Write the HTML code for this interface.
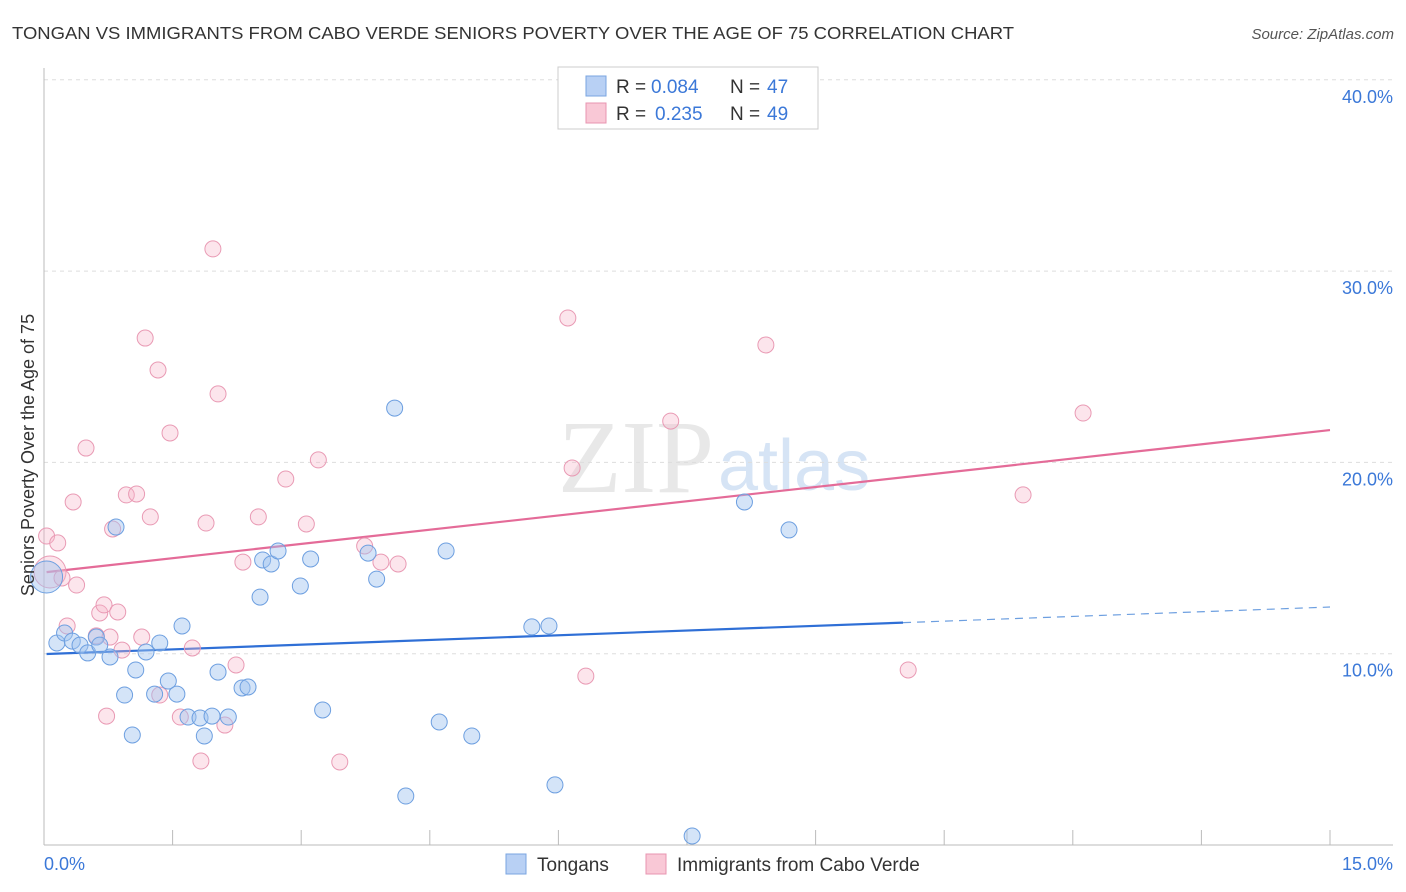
<!DOCTYPE html>
<html><head><meta charset="utf-8"><style>
body{margin:0;background:#fff;font-family:"Liberation Sans",sans-serif}
svg{display:block}
</style></head><body>
<svg id="chart" width="1406" height="892">
<text x="12" y="39" font-size="17.5" fill="#333" textLength="1002" lengthAdjust="spacingAndGlyphs">TONGAN VS IMMIGRANTS FROM CABO VERDE SENIORS POVERTY OVER THE AGE OF 75 CORRELATION CHART</text>
<text x="1394" y="39" font-size="15" fill="#555" font-style="italic" text-anchor="end">Source: ZipAtlas.com</text>
<text x="714" y="492" font-size="104" fill="#e8e8e8" text-anchor="end" font-family="Liberation Serif">ZIP</text>
<text x="718" y="490" font-size="72" fill="#d6e4f5">atlas</text>
<g id="grid"></g><g id="axes"></g><g id="trends"></g><g id="pts"></g>
<text transform="translate(34,455) rotate(-90)" font-size="18" fill="#333" text-anchor="middle">Seniors Poverty Over the Age of 75</text>
<g>
<rect x="558" y="67" width="260" height="62" fill="#fff" stroke="#ccc"/>
<rect x="586" y="76" width="20" height="20" fill="#b8d0f4" stroke="#7aa5e0"/>
<text x="616" y="93" font-size="19" fill="#333">R =</text>
<text x="651" y="93" font-size="19" fill="#3b78d8">0.084</text>
<text x="730" y="93" font-size="19" fill="#333">N =</text>
<text x="767" y="93" font-size="19" fill="#3b78d8">47</text>
<rect x="586" y="103" width="20" height="20" fill="#f9c8d6" stroke="#e895b0"/>
<text x="616" y="120" font-size="19" fill="#333">R =</text>
<text x="655" y="120" font-size="19" fill="#3b78d8">0.235</text>
<text x="730" y="120" font-size="19" fill="#333">N =</text>
<text x="767" y="120" font-size="19" fill="#3b78d8">49</text>
</g>
<g>
<rect x="506" y="854" width="20" height="20" fill="#b8d0f4" stroke="#7aa5e0"/>
<text x="537" y="871" font-size="19" fill="#333">Tongans</text>
<rect x="646" y="854" width="20" height="20" fill="#f9c8d6" stroke="#e895b0"/>
<text x="677" y="871" font-size="19" fill="#333">Immigrants from Cabo Verde</text>
</g>
</svg>
<script>
const blueX=[0.03,0.15,0.24,0.33,0.42,0.51,0.61,0.65,0.77,0.84,0.94,1.03,1.07,1.19,1.29,1.35,1.45,1.55,1.61,1.68,1.82,1.87,1.96,2.03,2.15,2.31,2.38,2.52,2.55,2.65,2.73,2.99,3.11,3.25,3.78,3.88,4.09,4.22,4.61,4.69,4.99,5.69,5.89,5.96,7.56,8.17,8.69];
const blueY=[14.01,10.56,11.08,10.66,10.45,10.04,10.87,10.45,9.83,16.62,7.84,5.75,9.15,10.09,7.89,10.56,8.57,7.89,11.45,6.69,6.64,5.70,6.74,9.04,6.69,8.21,8.26,12.96,14.90,14.69,15.37,13.54,14.95,7.06,15.26,13.90,22.84,2.56,6.43,15.37,5.70,11.40,11.45,3.14,0.47,17.93,16.47];
const pinkX=[0.03,0.07,0.16,0.21,0.27,0.34,0.38,0.49,0.61,0.65,0.70,0.73,0.80,0.86,0.91,0.96,1.08,1.14,1.18,1.24,1.33,1.35,1.47,1.59,1.73,1.83,1.89,1.97,2.03,2.11,2.24,2.32,2.50,2.82,3.06,3.20,3.45,3.74,3.93,4.13,6.11,6.16,6.32,7.31,8.42,10.08,11.42,12.12,0.77];
const pinkY=[16.15,14.27,15.79,13.96,11.45,17.93,13.59,20.75,10.93,12.13,12.55,6.74,16.52,12.18,10.19,18.30,18.35,10.87,26.50,17.15,24.83,7.84,21.54,6.69,10.30,4.39,16.83,31.16,23.58,6.27,9.41,14.79,17.15,19.13,16.78,20.13,4.34,15.63,14.79,14.69,27.55,19.71,8.83,22.16,26.14,9.15,18.30,22.58,10.87];
const yTicks=[10,20,30,40];
const yTickLabels=["10.0%","20.0%","30.0%","40.0%"];
const xTickCount=10;
const blueTrend=[9.98,12.44], blueSolidEnd=10.02;
const pinkTrend=[14.25,21.69];
const sx=v=>44+v/15*1286, sy=v=>845-v*19.13;
const NS="http://www.w3.org/2000/svg";
function mk(t,a,p){const e=document.createElementNS(NS,t);for(const k in a)e.setAttribute(k,a[k]);p.appendChild(e);return e;}
const grid=document.getElementById('grid'),axes=document.getElementById('axes');
yTicks.forEach((t,i)=>{
 const l=mk('line',{x1:44,x2:1393,y1:sy(t),y2:sy(t),stroke:'#ddd','stroke-dasharray':'4,4'},grid);
 
 
 const tx=mk('text',{x:1393,y:sy(t)+23,'font-size':18,fill:'#3b78d8','text-anchor':'end'},axes);
 tx.textContent=yTickLabels[i];
 
 
});
const ax=mk('line',{x1:44,x2:44,y1:68,y2:845,stroke:'#bbb'},axes);


const bx=mk('line',{x1:44,x2:1393,y1:845,y2:845,stroke:'#bbb'},axes);


for(let i=0;i<=xTickCount;i++){
 const x=sx(i*15/xTickCount);
 const t=mk('line',{x1:x,x2:x,y1:830,y2:845,stroke:'#bbb'},axes);
 
 
}
const x0=mk('text',{x:44,y:870,'font-size':18,fill:'#3b78d8'},axes);x0.textContent='0.0%';


const x1=mk('text',{x:1393,y:870,'font-size':18,fill:'#3b78d8','text-anchor':'end'},axes);x1.textContent='15.0%';


const pts=document.getElementById('pts');
function dot(x,y,r,fill,stroke,name){const c=mk('circle',{cx:sx(x),cy:sy(y),r:r,fill:fill,stroke:stroke,'stroke-width':1},pts);
 
 }
pinkX.forEach((x,i)=>dot(x,pinkY[i],i===1?16:8,'rgba(245,180,200,0.35)','#e99ab4','pink-point'));
blueX.forEach((x,i)=>dot(x,blueY[i],i===0?16:8,'rgba(160,195,240,0.45)','#6d9fe0','blue-point'));
const tr=document.getElementById('trends');
const lerp=(a,v)=>a[0]+(a[1]-a[0])*v/15;
const b1=mk('line',{x1:sx(0.03),y1:sy(lerp(blueTrend,0.03)),x2:sx(blueSolidEnd),y2:sy(lerp(blueTrend,blueSolidEnd)),stroke:'#2f6fd6','stroke-width':2.2},tr);


const b2=mk('line',{x1:sx(blueSolidEnd),y1:sy(lerp(blueTrend,blueSolidEnd)),x2:sx(15),y2:sy(blueTrend[1]),stroke:'#6d9fe0','stroke-width':1.2,'stroke-dasharray':'8,6'},tr);


const p1=mk('line',{x1:sx(0.03),y1:sy(lerp(pinkTrend,0.03)),x2:sx(15),y2:sy(pinkTrend[1]),stroke:'#e46b98','stroke-width':2.2},tr);


</script>
</body></html>
